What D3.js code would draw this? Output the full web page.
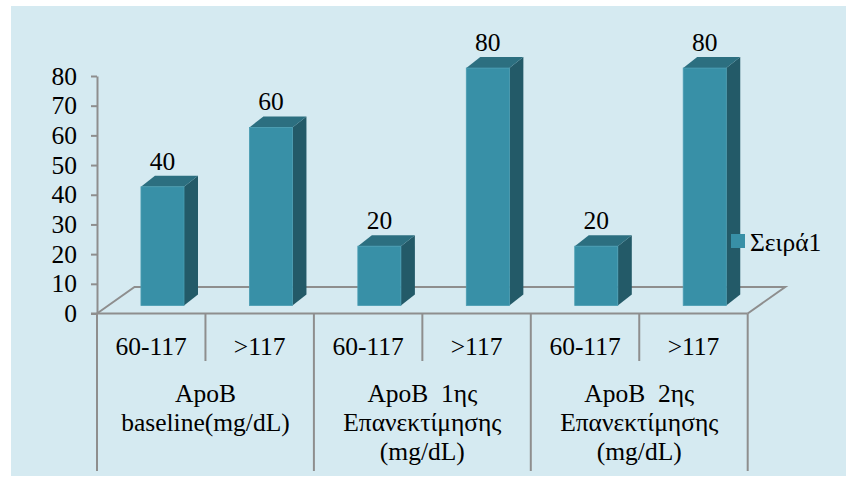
<!DOCTYPE html>
<html>
<head>
<meta charset="utf-8">
<script src="https://cdn.jsdelivr.net/npm/d3@7/dist/d3.min.js"></script>
<style>
  html, body { margin: 0; padding: 0; background: #ffffff; }
  svg { display: block; }
</style>
</head>
<body>
<svg id="chart" width="846" height="477"></svg>
<script>
// ---- data ----
const subCategories = ["60-117", ">117", "60-117", ">117", "60-117", ">117"];
const groupLabels = [
  ["ApoB", "baseline(mg/dL)"],
  ["ApoB  1ης", "Επανεκτίμησης", "(mg/dL)"],
  ["ApoB  2ης", "Επανεκτίμησης", "(mg/dL)"]
];
const values = [40, 60, 20, 80, 20, 80];
const seriesName = "Σειρά1";
const yTicks = [0, 10, 20, 30, 40, 50, 60, 70, 80];

// ---- layout ----
const W = 846, H = 477;
const FF = "'Liberation Serif', 'DejaVu Serif', 'Noto Serif', 'FreeSerif', 'Nimbus Roman', 'Nimbus Roman No9 L', Times, 'Times New Roman', serif";
const svg = d3.select("#chart").style("font-family", FF);
const FONT = 25.5;
const colFront = "#3890a7", colTop = "#2c6f80", colSide = "#235a68";
const gridCol = "#8e8e8e";

function txt(sel) {
  return sel.style("font-family", FF).attr("font-size", FONT).attr("fill", "#000");
}

svg.append("rect").attr("x", 11).attr("y", 6).attr("width", W - 11).attr("height", H - 6 - 1)
  .attr("fill", "#d5eaf1");

const x0 = 97, x1 = 747.7, yBase = 313.5, yTop = 76;
const depth = { dx: 37.5, dy: -26.5 };
const barDepth = { dx: 14, dy: -11 };
const barPos = 0.3;

const x = d3.scaleBand().domain(d3.range(subCategories.length)).range([x0, x1]).padding(0);
const y = d3.scaleLinear().domain([0, 80]).range([yBase, yTop]);
const bw = x.bandwidth() * 0.397;

const floor = d3.path();
floor.moveTo(x0, yBase);
floor.lineTo(x0 + depth.dx, yBase + depth.dy);
floor.lineTo(x1 + depth.dx, yBase + depth.dy);
floor.lineTo(x1, yBase);
svg.append("path").attr("d", floor.toString()).attr("fill", "none")
  .attr("stroke", gridCol).attr("stroke-width", 2).attr("stroke-linejoin", "miter");

const yAxis = d3.axisLeft(y).tickValues(yTicks).tickSize(6).tickPadding(14).tickSizeOuter(0);
const gy = svg.append("g").attr("transform", `translate(${x0},0)`).call(yAxis);
gy.attr("font-family", null).attr("font-size", null);
gy.select(".domain").attr("stroke", gridCol).attr("stroke-width", 2);
gy.selectAll(".tick line").attr("stroke", gridCol).attr("stroke-width", 2);
txt(gy.selectAll(".tick text"));

svg.append("line").attr("x1", x0 - 6).attr("x2", x1).attr("y1", yBase).attr("y2", yBase)
  .attr("stroke", gridCol).attr("stroke-width", 2);

const innerBottom = 361, outerBottom = 471;
d3.range(subCategories.length + 1).forEach(i => {
  const xx = i < subCategories.length ? x(i) : x1;
  const isGroup = i % 2 === 0;
  svg.append("line").attr("x1", xx).attr("x2", xx)
    .attr("y1", yBase).attr("y2", isGroup ? outerBottom : innerBottom)
    .attr("stroke", gridCol).attr("stroke-width", 2);
});

txt(svg.selectAll("text.sub").data(subCategories).join("text").attr("class", "sub")
  .attr("x", (d, i) => x(i) + x.bandwidth() / 2).attr("y", 355)
  .attr("text-anchor", "middle")).text(d => d);

groupLabels.forEach((lines, g) => {
  const cx = x(g * 2) + x.bandwidth();
  lines.forEach((ln, k) => {
    txt(svg.append("text").attr("x", cx).attr("y", 401.5 + k * 29)
      .attr("text-anchor", "middle"))
      .attr("xml:space", "preserve").style("white-space", "pre").text(ln);
  });
});

const gb = svg.append("g");
values.forEach((v, i) => {
  const cx = x(i) + x.bandwidth() / 2 + depth.dx * barPos;
  const bx = cx - bw / 2;
  const by0 = y(0) + depth.dy * barPos;
  const byt = y(v) + depth.dy * barPos;
  gb.append("path").attr("d", `M${bx + bw},${byt} L${bx + bw + barDepth.dx},${byt + barDepth.dy} L${bx + bw + barDepth.dx},${by0 + barDepth.dy} L${bx + bw},${by0} Z`)
    .attr("fill", colSide);
  gb.append("path").attr("d", `M${bx},${byt} L${bx + barDepth.dx},${byt + barDepth.dy} L${bx + bw + barDepth.dx},${byt + barDepth.dy} L${bx + bw},${byt} Z`)
    .attr("fill", colTop);
  gb.append("rect").attr("x", bx).attr("y", byt).attr("width", bw).attr("height", by0 - byt)
    .attr("fill", colFront).attr("stroke", "#4a9db2").attr("stroke-width", 0.8);
  txt(gb.append("text").attr("x", cx).attr("y", byt - 17).attr("text-anchor", "middle")).text(v);
});

svg.append("rect").attr("x", 731).attr("y", 234).attr("width", 14).attr("height", 14).attr("fill", colFront);
txt(svg.append("text").attr("x", 750).attr("y", 250.5)).text(seriesName);
</script>
</body>
</html>
